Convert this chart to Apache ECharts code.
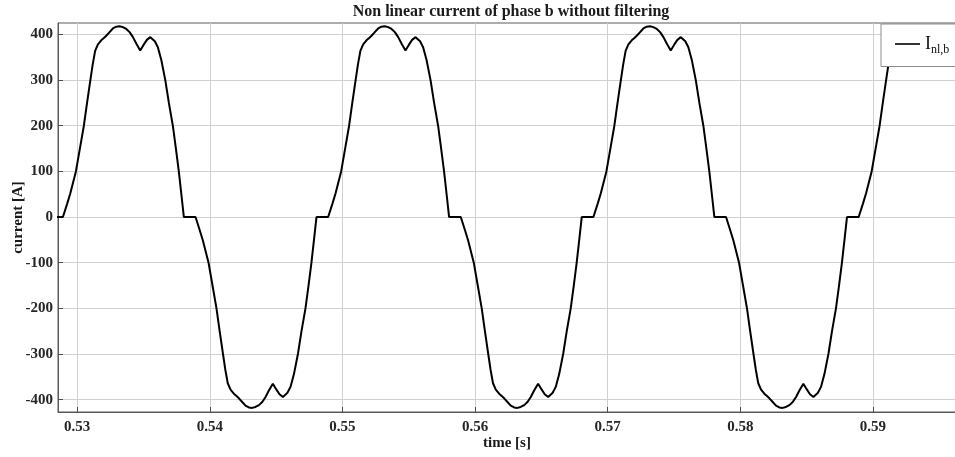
<!DOCTYPE html>
<html>
<head>
<meta charset="utf-8">
<script src="https://cdn.jsdelivr.net/npm/echarts@6/dist/echarts.min.js"></script>
<style>
  html, body { margin: 0; padding: 0; background: #fff; }
  #chart { width: 955px; height: 457px; }
</style>
</head>
<body>
<div id="chart"></div>
<script>
// Sampled load current of phase b, one line per half-cycle (50 Hz, no filter)
const time = [
  0.52804,
  0.52892, 0.52925, 0.52948, 0.52990, 0.53020, 0.53050, 0.53074, 0.53099, 0.53117, 0.53135, 0.53156, 0.53181, 0.53201, 0.53219, 0.53244, 0.53269, 0.53294, 0.53319, 0.53344, 0.53370, 0.53395, 0.53420, 0.53445, 0.53475, 0.53500, 0.53525, 0.53551, 0.53563, 0.53585, 0.53608, 0.53634, 0.53664, 0.53691, 0.53721, 0.53744, 0.53766, 0.53787, 0.53804,
  0.53892, 0.53925, 0.53948, 0.53990, 0.54020, 0.54050, 0.54074, 0.54099, 0.54117, 0.54135, 0.54156, 0.54181, 0.54201, 0.54219, 0.54244, 0.54269, 0.54294, 0.54319, 0.54344, 0.54370, 0.54395, 0.54420, 0.54445, 0.54475, 0.54500, 0.54525, 0.54551, 0.54563, 0.54585, 0.54608, 0.54634, 0.54664, 0.54691, 0.54721, 0.54744, 0.54766, 0.54787, 0.54804,
  0.54892, 0.54925, 0.54948, 0.54990, 0.55020, 0.55050, 0.55074, 0.55099, 0.55117, 0.55135, 0.55156, 0.55181, 0.55201, 0.55219, 0.55244, 0.55269, 0.55294, 0.55319, 0.55344, 0.55370, 0.55395, 0.55420, 0.55445, 0.55475, 0.55500, 0.55525, 0.55551, 0.55563, 0.55585, 0.55608, 0.55634, 0.55664, 0.55691, 0.55721, 0.55744, 0.55766, 0.55787, 0.55804,
  0.55892, 0.55925, 0.55948, 0.55990, 0.56020, 0.56050, 0.56074, 0.56099, 0.56117, 0.56135, 0.56156, 0.56181, 0.56201, 0.56219, 0.56244, 0.56269, 0.56294, 0.56319, 0.56344, 0.56370, 0.56395, 0.56420, 0.56445, 0.56475, 0.56500, 0.56525, 0.56551, 0.56563, 0.56585, 0.56608, 0.56634, 0.56664, 0.56691, 0.56721, 0.56744, 0.56766, 0.56787, 0.56804,
  0.56892, 0.56925, 0.56948, 0.56990, 0.57020, 0.57050, 0.57074, 0.57099, 0.57117, 0.57135, 0.57156, 0.57181, 0.57201, 0.57219, 0.57244, 0.57269, 0.57294, 0.57319, 0.57344, 0.57370, 0.57395, 0.57420, 0.57445, 0.57475, 0.57500, 0.57525, 0.57551, 0.57563, 0.57585, 0.57608, 0.57634, 0.57664, 0.57691, 0.57721, 0.57744, 0.57766, 0.57787, 0.57804,
  0.57892, 0.57925, 0.57948, 0.57990, 0.58020, 0.58050, 0.58074, 0.58099, 0.58117, 0.58135, 0.58156, 0.58181, 0.58201, 0.58219, 0.58244, 0.58269, 0.58294, 0.58319, 0.58344, 0.58370, 0.58395, 0.58420, 0.58445, 0.58475, 0.58500, 0.58525, 0.58551, 0.58563, 0.58585, 0.58608, 0.58634, 0.58664, 0.58691, 0.58721, 0.58744, 0.58766, 0.58787, 0.58804,
  0.58892, 0.58925, 0.58948, 0.58990, 0.59020, 0.59050, 0.59074, 0.59099, 0.59117, 0.59135, 0.59156, 0.59181, 0.59201, 0.59219, 0.59244, 0.59269, 0.59294, 0.59319, 0.59344, 0.59370, 0.59395, 0.59420, 0.59445, 0.59475, 0.59500, 0.59525, 0.59551, 0.59563, 0.59585, 0.59608, 0.59634
];

const current = [
  0,
  0, 30, 52, 100, 150, 200, 250, 300, 335, 364, 378, 387, 392, 397, 405, 413, 417, 418, 416, 412, 405, 394, 380, 365, 377, 388, 394, 393, 385, 372, 344, 300, 250, 200, 150, 100, 45, 0,
  0, -30, -52, -100, -150, -200, -250, -300, -335, -364, -378, -387, -392, -397, -405, -413, -417, -418, -416, -412, -405, -394, -380, -365, -377, -388, -394, -393, -385, -372, -344, -300, -250, -200, -150, -100, -45, 0,
  0, 30, 52, 100, 150, 200, 250, 300, 335, 364, 378, 387, 392, 397, 405, 413, 417, 418, 416, 412, 405, 394, 380, 365, 377, 388, 394, 393, 385, 372, 344, 300, 250, 200, 150, 100, 45, 0,
  0, -30, -52, -100, -150, -200, -250, -300, -335, -364, -378, -387, -392, -397, -405, -413, -417, -418, -416, -412, -405, -394, -380, -365, -377, -388, -394, -393, -385, -372, -344, -300, -250, -200, -150, -100, -45, 0,
  0, 30, 52, 100, 150, 200, 250, 300, 335, 364, 378, 387, 392, 397, 405, 413, 417, 418, 416, 412, 405, 394, 380, 365, 377, 388, 394, 393, 385, 372, 344, 300, 250, 200, 150, 100, 45, 0,
  0, -30, -52, -100, -150, -200, -250, -300, -335, -364, -378, -387, -392, -397, -405, -413, -417, -418, -416, -412, -405, -394, -380, -365, -377, -388, -394, -393, -385, -372, -344, -300, -250, -200, -150, -100, -45, 0,
  0, 30, 52, 100, 150, 200, 250, 300, 335, 364, 378, 387, 392, 397, 405, 413, 417, 418, 416, 412, 405, 394, 380, 365, 377, 388, 394, 393, 385, 372, 344
];

const timeTicks = [0.53, 0.54, 0.55, 0.56, 0.57, 0.58, 0.59];
const currentTicks = [-400, -300, -200, -100, 0, 100, 200, 300, 400];

const seriesName = 'I_nl,b';
const font = '"Liberation Serif", "Times New Roman", serif';

const chart = echarts.init(document.getElementById('chart'), null, { renderer: 'canvas' });

const gridLine = { show: true, lineStyle: { color: '#d0d0d0', width: 1 } };
const tickStyle = { show: true, inside: true, length: 5, lineStyle: { color: '#4d4d4d', width: 1 } };
const labelStyle = { color: '#262626', fontFamily: font, fontWeight: 'bold', fontSize: 15 };

chart.setOption({
  animation: false,
  backgroundColor: '#ffffff',
  title: {
    text: 'Non linear current of phase b without filtering',
    left: 506,
    textAlign: 'center',
    top: -1,
    textStyle: { fontFamily: font, fontWeight: 'bold', fontSize: 16, color: '#1a1a1a' }
  },
  grid: {
    left: 58, right: -1, top: 23, bottom: 45,
    outerBoundsMode: 'none',
    containLabel: false,
    show: true, borderColor: '#5a5a5a', borderWidth: 1, backgroundColor: 'transparent'
  },
  legend: {
    left: 881, top: 24,
    orient: 'vertical',
    padding: [11, 40, 11, 14],
    backgroundColor: '#ffffff',
    borderColor: '#8c8c8c', borderWidth: 1, borderRadius: 0,
    icon: 'rect',
    itemWidth: 25, itemHeight: 1.6, itemGap: 0,
    data: [{ name: seriesName }],
    formatter: () => '{i|I}{s|nl,b}',
    textStyle: {
      rich: {
        i: { fontFamily: font, fontSize: 18, color: '#111' },
        s: { fontFamily: font, fontSize: 12, color: '#111', padding: [11, 0, 0, 0] }
      }
    }
  },
  xAxis: {
    type: 'value',
    min: 0.52855, max: 0.59626,
    name: 'time [s]',
    nameLocation: 'middle', nameGap: 24, nameMoveOverlap: false,
    nameTextStyle: { fontFamily: font, fontWeight: 'bold', fontSize: 15, color: '#1a1a1a' },
    axisLine: { show: true, onZero: false, lineStyle: { color: '#5a5a5a' } },
    axisTick: Object.assign({ customValues: timeTicks }, tickStyle),
    axisLabel: Object.assign({ customValues: timeTicks, margin: 8, formatter: v => v.toFixed(2) }, labelStyle),
    splitLine: gridLine
  },
  yAxis: {
    type: 'value',
    min: -427, max: 425,
    name: 'current [A]',
    nameLocation: 'middle', nameGap: 32, nameRotate: 90, nameMoveOverlap: false,
    nameTextStyle: { fontFamily: font, fontWeight: 'bold', fontSize: 15, color: '#1a1a1a' },
    axisLine: { show: true, lineStyle: { color: '#5a5a5a' } },
    axisTick: Object.assign({ customValues: currentTicks }, tickStyle),
    axisLabel: Object.assign({ customValues: currentTicks, margin: 5, formatter: v => String(v) }, labelStyle),
    splitLine: gridLine
  },
  series: [{
    name: seriesName,
    type: 'line',
    symbol: 'none',
    clip: true,
    lineStyle: { color: '#000000', width: 2 },
    itemStyle: { color: '#000000' },
    data: time.map((t, k) => [t, current[k]])
  }]
});
</script>
</body>
</html>
